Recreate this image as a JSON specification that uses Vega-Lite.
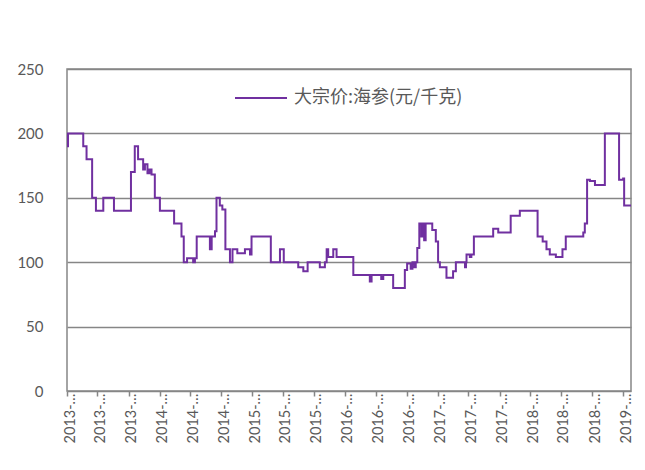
{
  "$schema": "https://vega.github.io/schema/vega-lite/v6.json",
  "autosize": {"type": "none"},
  "width": 564,
  "height": 322,
  "padding": {"left": 67, "top": 69, "right": 14, "bottom": 79},
  "background": "white",
  "config": {
    "view": {"stroke": "#868686", "strokeWidth": 1.5},
    "font": "Lato"
  },
  "data": {
    "values": [
      {"date": "2013-01-01", "price": 190},
      {"date": "2013-01-05", "price": 200},
      {"date": "2013-03-06", "price": 190},
      {"date": "2013-03-19", "price": 180},
      {"date": "2013-04-10", "price": 150},
      {"date": "2013-04-25", "price": 140},
      {"date": "2013-05-24", "price": 150},
      {"date": "2013-07-05", "price": 140},
      {"date": "2013-09-10", "price": 170},
      {"date": "2013-09-25", "price": 190},
      {"date": "2013-10-08", "price": 180},
      {"date": "2013-10-28", "price": 172},
      {"date": "2013-11-04", "price": 176},
      {"date": "2013-11-14", "price": 169},
      {"date": "2013-11-22", "price": 172},
      {"date": "2013-11-30", "price": 168},
      {"date": "2013-12-13", "price": 150},
      {"date": "2014-01-02", "price": 140},
      {"date": "2014-02-27", "price": 130},
      {"date": "2014-03-28", "price": 120},
      {"date": "2014-04-06", "price": 100},
      {"date": "2014-04-19", "price": 103},
      {"date": "2014-05-13", "price": 100},
      {"date": "2014-05-20", "price": 103},
      {"date": "2014-05-27", "price": 120},
      {"date": "2014-07-18", "price": 110},
      {"date": "2014-07-25", "price": 120},
      {"date": "2014-08-07", "price": 124},
      {"date": "2014-08-13", "price": 150},
      {"date": "2014-08-26", "price": 144},
      {"date": "2014-09-05", "price": 141},
      {"date": "2014-09-17", "price": 110},
      {"date": "2014-10-05", "price": 100},
      {"date": "2014-10-15", "price": 110},
      {"date": "2014-11-03", "price": 107},
      {"date": "2014-12-03", "price": 110},
      {"date": "2014-12-23", "price": 106},
      {"date": "2014-12-29", "price": 120},
      {"date": "2015-03-15", "price": 100},
      {"date": "2015-04-20", "price": 110},
      {"date": "2015-05-05", "price": 100},
      {"date": "2015-07-01", "price": 96},
      {"date": "2015-07-21", "price": 93},
      {"date": "2015-08-07", "price": 100},
      {"date": "2015-09-24", "price": 96},
      {"date": "2015-10-14", "price": 100},
      {"date": "2015-10-21", "price": 110},
      {"date": "2015-10-27", "price": 104},
      {"date": "2015-11-16", "price": 110},
      {"date": "2015-11-29", "price": 104},
      {"date": "2016-02-03", "price": 90},
      {"date": "2016-04-08", "price": 85},
      {"date": "2016-04-15", "price": 90},
      {"date": "2016-05-23", "price": 87},
      {"date": "2016-05-31", "price": 90},
      {"date": "2016-07-09", "price": 80},
      {"date": "2016-08-24", "price": 94},
      {"date": "2016-09-02", "price": 99},
      {"date": "2016-09-16", "price": 95},
      {"date": "2016-09-23", "price": 100},
      {"date": "2016-10-01", "price": 96},
      {"date": "2016-10-06", "price": 100},
      {"date": "2016-10-12", "price": 111},
      {"date": "2016-10-20", "price": 130},
      {"date": "2016-10-28", "price": 120},
      {"date": "2016-11-04", "price": 130},
      {"date": "2016-11-08", "price": 117},
      {"date": "2016-11-14", "price": 130},
      {"date": "2016-12-10", "price": 125},
      {"date": "2016-12-24", "price": 116},
      {"date": "2017-01-02", "price": 100},
      {"date": "2017-01-09", "price": 96},
      {"date": "2017-02-04", "price": 88},
      {"date": "2017-03-02", "price": 93},
      {"date": "2017-03-13", "price": 100},
      {"date": "2017-04-18", "price": 96},
      {"date": "2017-04-22", "price": 100},
      {"date": "2017-04-24", "price": 106},
      {"date": "2017-05-07", "price": 104},
      {"date": "2017-05-13", "price": 106},
      {"date": "2017-05-23", "price": 120},
      {"date": "2017-08-07", "price": 126},
      {"date": "2017-08-27", "price": 123},
      {"date": "2017-10-15", "price": 136},
      {"date": "2017-11-20", "price": 140},
      {"date": "2018-01-29", "price": 120},
      {"date": "2018-02-18", "price": 116},
      {"date": "2018-03-05", "price": 110},
      {"date": "2018-03-18", "price": 106},
      {"date": "2018-04-11", "price": 104},
      {"date": "2018-05-07", "price": 110},
      {"date": "2018-05-20", "price": 120},
      {"date": "2018-07-28", "price": 123},
      {"date": "2018-08-03", "price": 130},
      {"date": "2018-08-12", "price": 164},
      {"date": "2018-08-23", "price": 163},
      {"date": "2018-09-12", "price": 160},
      {"date": "2018-10-21", "price": 200},
      {"date": "2018-12-16", "price": 164},
      {"date": "2019-01-01", "price": 165},
      {"date": "2019-01-05", "price": 144},
      {"date": "2019-02-01", "price": 144}
    ]
  },
  "mark": {"type": "line", "interpolate": "step-after", "strokeWidth": 2},
  "encoding": {
    "x": {
      "field": "date",
      "type": "temporal",
      "scale": {"domain": [{"year": 2013, "month": 1, "date": 1}, {"year": 2019, "month": 2, "date": 1}]},
      "axis": {
        "title": null,
        "grid": false,
        "domain": false,
        "ticks": true,
        "tickSize": 5,
        "tickColor": "#868686",
        "tickWidth": 1.5,
        "tickCount": {"interval": "month", "step": 4},
        "labelExpr": "timeFormat(datum.value, '%Y') + '-…'",
        "labelAngle": -90,
        "labelAlign": "right",
        "labelBaseline": "middle",
        "labelPadding": -3,
        "labelOffset": 3,
        "labelFontSize": 14.5,
        "labelColor": "#595959",
        "labelOverlap": false,
        "labelBound": false,
        "labelFlush": false
      }
    },
    "y": {
      "field": "price",
      "type": "quantitative",
      "scale": {"domain": [0, 250], "nice": false},
      "axis": {
        "title": null,
        "values": [0, 50, 100, 150, 200, 250],
        "domain": false,
        "ticks": false,
        "grid": true,
        "gridColor": "#868686",
        "gridWidth": 1.5,
        "labelPadding": 24,
        "labelFontSize": 15,
        "labelColor": "#595959"
      }
    },
    "color": {
      "datum": "大宗价:海参(元/千克)",
      "type": "nominal",
      "scale": {"range": ["#7030A0"]},
      "legend": {
        "title": null,
        "orient": "none",
        "legendX": 167,
        "legendY": 2,
        "symbolType": "stroke",
        "symbolSize": 2704,
        "symbolStrokeWidth": 2,
        "labelFont": "Noto Sans CJK SC",
        "labelFontSize": 18,
        "labelColor": "#595959",
        "labelOffset": 6,
        "labelLimit": 400
      }
    }
  }
}
